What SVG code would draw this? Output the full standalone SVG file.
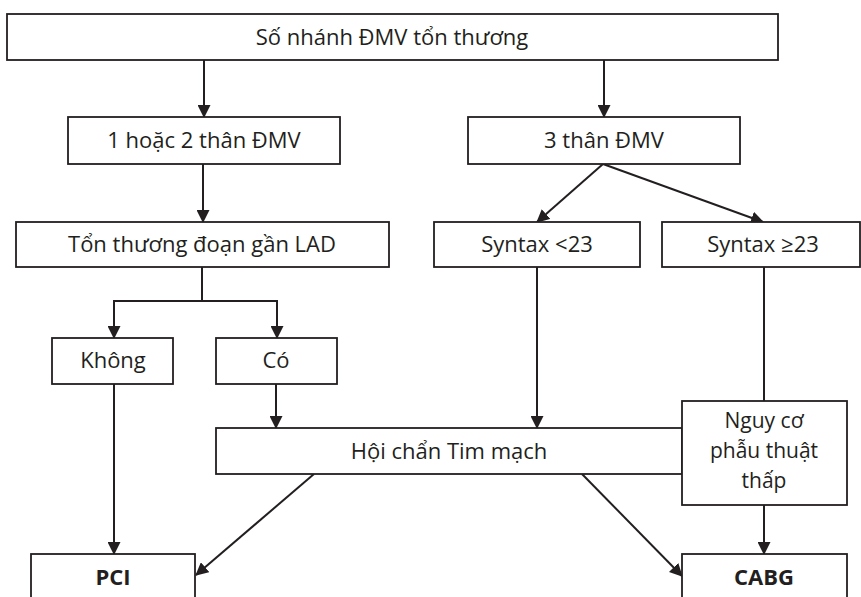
<svg xmlns="http://www.w3.org/2000/svg" width="861" height="597" viewBox="0 0 861 597">
<style>
.box{fill:#fff;stroke:#231f20;stroke-width:1.8}
.t{font-family:"Open Sans","Noto Sans",sans-serif;font-size:22px;fill:#231f20;text-anchor:middle}
.s{font-size:21px}
.b{font-weight:bold}
.c{fill:none;stroke:#231f20;stroke-width:2}
</style>
<defs>
<marker id="ah" markerUnits="userSpaceOnUse" markerWidth="13" markerHeight="13" viewBox="0 0 13 13" refX="12" refY="6.5" orient="auto">
<path d="M0,0 L13,6.5 L0,13 z" fill="#231f20"/>
</marker>
</defs>
<rect width="861" height="597" fill="#fff"/>
<g id="connectors">
<path class="c" d="M204,60 V117" marker-end="url(#ah)"/>
<path class="c" d="M604,60 V117" marker-end="url(#ah)"/>
<path class="c" d="M203,164 V222" marker-end="url(#ah)"/>
<path class="c" d="M603,164 L537,222" marker-end="url(#ah)"/>
<path class="c" d="M603,164 L763,222" marker-end="url(#ah)"/>
<path class="c" d="M202,267 V301 H114 V338" marker-end="url(#ah)"/>
<path class="c" d="M202,301 H277 V338" marker-end="url(#ah)"/>
<path class="c" d="M114,384 V554" marker-end="url(#ah)"/>
<path class="c" d="M276,384 V428" marker-end="url(#ah)"/>
<path class="c" d="M537,267 V428" marker-end="url(#ah)"/>
<path class="c" d="M764,267 V401"/>
<path class="c" d="M764,505 V554" marker-end="url(#ah)"/>
<path class="c" d="M314,474 L196,575" marker-end="url(#ah)"/>
<path class="c" d="M582,474 L682,576" marker-end="url(#ah)"/>
</g>
<g id="n-top"><rect class="box" x="7" y="14" width="771" height="46"/><text class="t" x="392" y="45">Số nhánh ĐMV tổn thương</text></g>
<g id="n-12"><rect class="box" x="68" y="117" width="272" height="47"/><text class="t" x="204" y="148">1 hoặc 2 thân ĐMV</text></g>
<g id="n-3"><rect class="box" x="468" y="117" width="272" height="47"/><text class="t" x="604" y="148">3 thân ĐMV</text></g>
<g id="n-lad"><rect class="box" x="16" y="222" width="373" height="45"/><text class="t" x="202" y="252">Tổn thương đoạn gần LAD</text></g>
<g id="n-s1"><rect class="box" x="434" y="222" width="206" height="45"/><text class="t" x="537" y="252">Syntax &lt;23</text></g>
<g id="n-s2"><rect class="box" x="662" y="222" width="198" height="45"/><text class="t" x="763" y="252">Syntax ≥23</text></g>
<g id="n-khong"><rect class="box" x="52" y="338" width="121" height="46"/><text class="t" x="113" y="368">Không</text></g>
<g id="n-co"><rect class="box" x="216" y="338" width="121" height="46"/><text class="t" x="276" y="368">Có</text></g>
<g id="n-hoichan"><rect class="box" x="216" y="428" width="466" height="46"/><text class="t" x="449" y="459">Hội chẩn Tim mạch</text></g>
<g id="n-nguyco"><rect class="box" x="682" y="401" width="165" height="104"/><text class="t s" x="764" y="428">Nguy cơ</text><text class="t s" x="764" y="458">phẫu thuật</text><text class="t s" x="764" y="488">thấp</text></g>
<g id="n-pci"><rect class="box" x="31" y="554" width="164" height="60"/><text class="t b" x="113" y="585">PCI</text></g>
<g id="n-cabg"><rect class="box" x="682" y="554" width="165" height="60"/><text class="t b" x="764" y="585">CABG</text></g>
</svg>
